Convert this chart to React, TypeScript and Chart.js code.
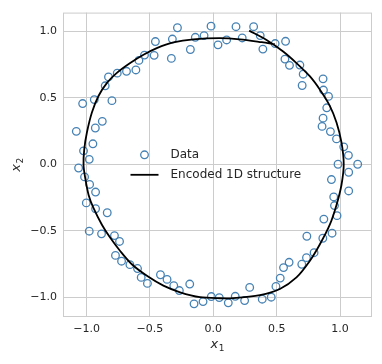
import React, { useEffect, useRef } from "react";
import { Chart, registerables } from "chart.js";

Chart.register(...registerables);

// Observed data points (x1, x2)
const dataX = [
  -0.283, -0.018, -0.323, -0.457, -0.142, -0.073, 0.037, -0.181, -0.331, -0.467,
  -0.543, -0.587, -0.611, -0.685, -0.758, -0.827, -0.853, -0.939, -0.8, -1.031,
  -0.876, -0.931, -1.081, -0.95, -1.024, -0.979, -1.063,
  0.105, 0.179, 0.228, 0.318, 0.37, 0.391, 0.488, 0.57, 0.565, 0.601, 0.683, 0.709,
  0.701, 0.866, 0.869, 0.909, 0.895, 0.866, 0.858, 0.924, 0.972, 1.029, 1.066, 1.139,
  0.984, 1.068,
  0.932, 1.068, 0.95, 0.956, 0.976, 0.872, 0.937, 0.864, 0.738, 0.795, 0.735, 0.698,
  0.598, 0.554, 0.528, 0.494, 0.457, 0.386, 0.287, 0.247, 0.173, 0.118, 0.047, -0.016,
  -0.081,
  -1.016, -0.976, -0.929, -1.002, -0.929, -0.837, -0.979, -0.882, -0.78, -0.74, -0.772,
  -0.724, -0.658, -0.598, -0.569, -0.52, -0.417, -0.365, -0.312, -0.268, -0.186, -0.152,
];
const dataY = [
  1.028, 1.04, 0.943, 0.924, 0.956, 0.969, 0.899, 0.864, 0.797, 0.82,
  0.822, 0.782, 0.71, 0.7, 0.686, 0.658, 0.591, 0.487, 0.479, 0.457,
  0.323, 0.273, 0.248, 0.154, 0.101, 0.037, -0.028,
  0.936, 1.036, 0.951, 1.036, 0.969, 0.867, 0.909, 0.926, 0.792, 0.745, 0.747, 0.678,
  0.593, 0.643, 0.559, 0.511, 0.425, 0.347, 0.285, 0.246, 0.191, 0.131, 0.067, 0.0,
  0.0, -0.06,
  -0.115, -0.201, -0.246, -0.311, -0.387, -0.413, -0.519, -0.557, -0.542, -0.666, -0.703,
  -0.753, -0.738, -0.778, -0.857, -0.92, -1.001, -1.016, -0.927, -1.026, -0.994, -1.043,
  -1.004, -0.996, -1.034,
  -0.095, -0.152, -0.209, -0.291, -0.335, -0.365, -0.504, -0.524, -0.537, -0.581, -0.686,
  -0.73, -0.756, -0.785, -0.852, -0.897, -0.832, -0.867, -0.914, -0.951, -0.902, -1.051,
];

// Encoded 1D structure (curve)
const curveX = [
  0.485, 0.383, 0.21, 0.05, -0.157, -0.315, -0.446, -0.551, -0.656, -0.761, -0.839,
  -0.906, -0.958, -0.997, -1.018, -1.024, -1.01, -0.984, -0.945, -0.879, -0.813, -0.735,
  -0.643, -0.524, -0.394, -0.262, -0.105, 0.053, 0.157, 0.368, 0.525, 0.656, 0.761, 0.84,
  0.919, 0.972, 1.011, 1.029, 1.011, 0.972, 0.919, 0.84, 0.761, 0.656, 0.551, 0.42, 0.283,
];
const curveY = [
  0.904, 0.919, 0.941, 0.95, 0.941, 0.917, 0.874, 0.824, 0.762, 0.688, 0.613,
  0.514, 0.39, 0.241, 0.116, -0.007, -0.107, -0.231, -0.331, -0.455, -0.554, -0.653,
  -0.753, -0.84, -0.914, -0.964, -1.001, -1.009, -1.008, -0.985, -0.939, -0.852, -0.728, -0.604,
  -0.455, -0.306, -0.156, 0.0, 0.166, 0.315, 0.44, 0.563, 0.663, 0.762, 0.849, 0.936, 1.006,
];

const xTicks = [-1.0, -0.5, 0.0, 0.5, 1.0];
const yTicks = [-1.0, -0.5, 0.0, 0.5, 1.0];
const legendLabels = ["Data", "Encoded 1D structure"];

const FONT = "'DejaVu Sans', sans-serif";
const TEXT = "#262626";
const GRID = "#cccccc";
const BLUE = "#4682b4";

const fmt = (v: number) => v.toFixed(1).replace("-", "\u2212");

const decorPlugin = {
  id: "decor",
  afterDraw(chart: any) {
    const { ctx, chartArea: a } = chart;
    ctx.save();
    // frame
    ctx.strokeStyle = GRID;
    ctx.lineWidth = 1;
    ctx.strokeRect(a.left + 0.5, a.top + 0.5, a.right - a.left - 1, a.bottom - a.top - 1);

    // legend
    const cx = (a.left + a.right) / 2;
    const cy = (a.top + a.bottom) / 2;
    const textX = cx - 47;
    const row1 = cy - 10;
    const row2 = cy + 10;
    ctx.strokeStyle = BLUE;
    ctx.lineWidth = 1.3;
    ctx.beginPath();
    ctx.arc(cx - 73, row1, 3.8, 0, Math.PI * 2);
    ctx.stroke();
    ctx.strokeStyle = "#000";
    ctx.lineWidth = 1.8;
    ctx.beginPath();
    ctx.moveTo(cx - 87, row2);
    ctx.lineTo(cx - 59, row2);
    ctx.stroke();
    ctx.fillStyle = TEXT;
    ctx.font = `12px ${FONT}`;
    ctx.textBaseline = "middle";
    ctx.textAlign = "left";
    ctx.fillText(legendLabels[0], textX, row1);
    ctx.fillText(legendLabels[1], textX, row2);

    // axis labels: x1 and x2 (italic with subscript)
    const drawLabel = (sub: string) => {
      ctx.font = `italic 13px ${FONT}`;
      const w1 = ctx.measureText("x").width;
      ctx.font = `9px ${FONT}`;
      const w2 = ctx.measureText(sub).width;
      const total = w1 + w2 + 0.5;
      ctx.textBaseline = "alphabetic";
      ctx.textAlign = "left";
      ctx.font = `italic 13px ${FONT}`;
      ctx.fillText("x", -total / 2, 3);
      ctx.font = `9px ${FONT}`;
      ctx.fillText(sub, -total / 2 + w1 + 0.5, 6);
    };
    ctx.fillStyle = TEXT;
    ctx.save();
    ctx.translate(cx, a.bottom + 28);
    drawLabel("1");
    ctx.restore();
    ctx.save();
    ctx.translate(17, cy);
    ctx.rotate(-Math.PI / 2);
    drawLabel("2");
    ctx.restore();
    ctx.restore();
  },
};

export default function App() {
  const ref = useRef<HTMLCanvasElement>(null);
  useEffect(() => {
    document.body.style.margin = "0";
    const canvas = ref.current!;
    const chart = new Chart(canvas, {
      type: "scatter",
      data: {
        datasets: [
          {
            label: legendLabels[1],
            data: curveX.map((x, i) => ({ x, y: curveY[i] })),
            showLine: true,
            borderColor: "#000000",
            borderWidth: 1.8,
            pointRadius: 0,
            tension: 0.3,
            fill: false,
            order: 0,
          },
          {
            label: legendLabels[0],
            data: dataX.map((x, i) => ({ x, y: dataY[i] })),
            showLine: false,
            borderColor: BLUE,
            backgroundColor: "rgba(0,0,0,0)",
            pointRadius: 3.8,
            pointBorderWidth: 1.3,
            pointHoverRadius: 3.8,
            order: 1,
          },
        ],
      },
      options: {
        animation: false,
        responsive: false,
        devicePixelRatio: 1,
        layout: { padding: { top: 9, right: 10, left: 0, bottom: 0 } },
        plugins: { legend: { display: false }, tooltip: { enabled: false } },
        scales: {
          x: {
            type: "linear",
            min: -1.186,
            max: 1.252,
            afterBuildTicks: (s: any) => {
              s.ticks = xTicks.map((v) => ({ value: v }));
            },
            afterFit: (s: any) => {
              s.height = 47;
            },
            grid: { color: GRID, lineWidth: 1, drawTicks: false },
            border: { display: false },
            ticks: {
              color: TEXT,
              font: { family: FONT, size: 11 },
              padding: 6,
              callback: (v: any) => fmt(Number(v)),
            },
          },
          y: {
            type: "linear",
            min: -1.15,
            max: 1.142,
            afterBuildTicks: (s: any) => {
              s.ticks = yTicks.map((v) => ({ value: v }));
            },
            afterFit: (s: any) => {
              s.width = 63;
            },
            grid: { color: GRID, lineWidth: 1, drawTicks: false },
            border: { display: false },
            ticks: {
              color: TEXT,
              font: { family: FONT, size: 11 },
              padding: 6,
              callback: (v: any) => fmt(Number(v)),
            },
          },
        },
      },
      plugins: [decorPlugin],
    });
    return () => chart.destroy();
  }, []);
  return (
    <div style={{ width: 382, height: 364 }}>
      <canvas ref={ref} width={382} height={364} />
    </div>
  );
}
